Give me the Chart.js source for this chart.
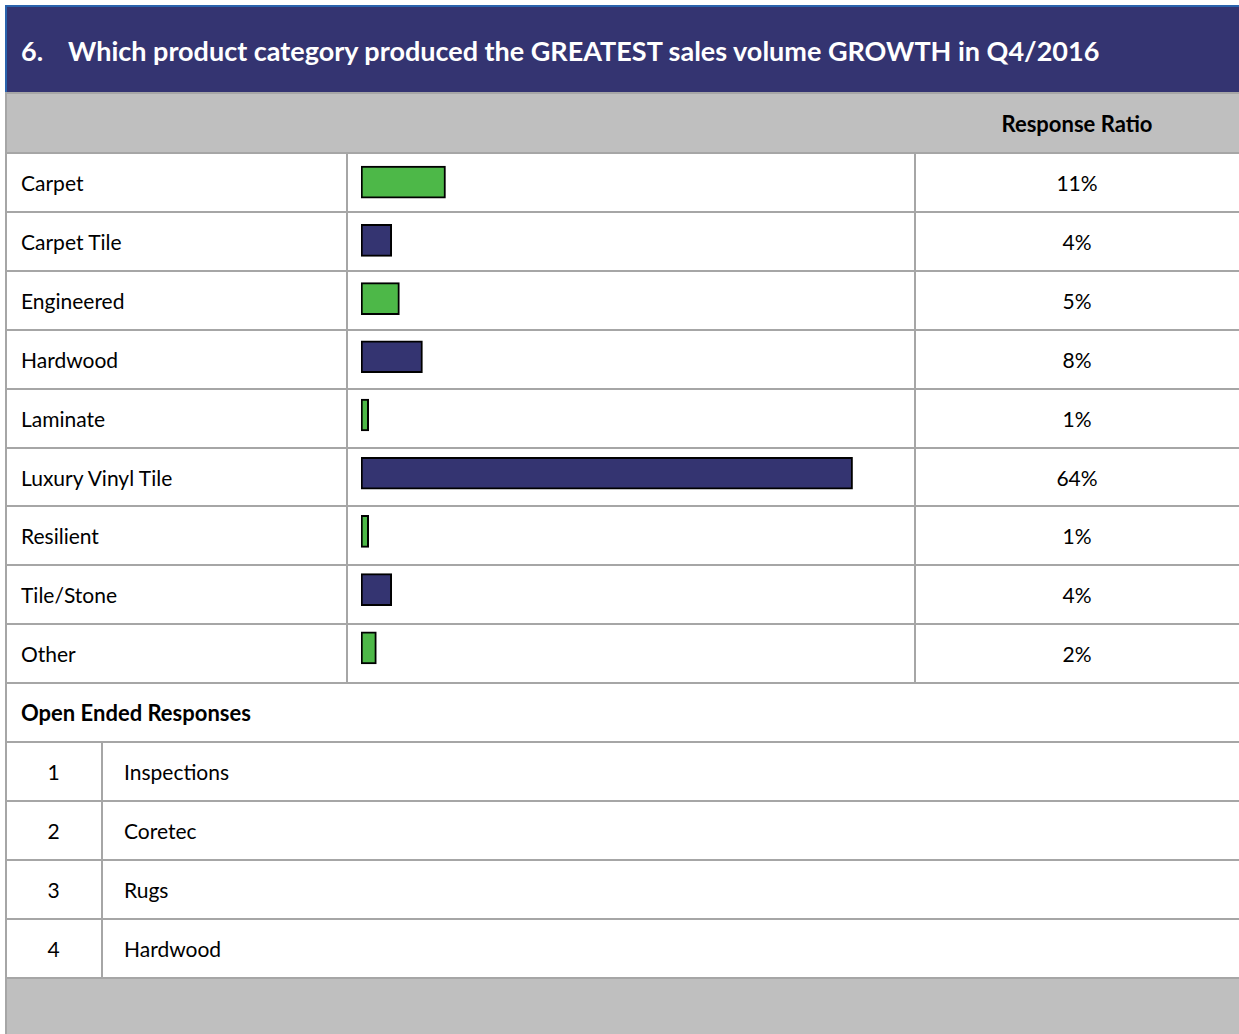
<!DOCTYPE html>
<html>
<head>
<meta charset="utf-8">
<script src="https://cdn.jsdelivr.net/npm/chart.js@4.4.1/dist/chart.umd.min.js"></script>
<style>
  html, body { margin: 0; padding: 0; background: #fff; }
  body { width: 1239px; height: 1034px; position: relative; overflow: hidden;
         font-family: Lato, "Open Sans", sans-serif; color: #000; }
  .abs { position: absolute; box-sizing: border-box; }
  .title { left: 5px; top: 5px; width: 1234px; height: 88px; background: #343471;
           border-top: 2px solid #2a63ad; border-left: 2px solid #2a63ad;
           color: #fff; font-weight: bold; font-size: 27px; line-height: 88px; padding-left: 14px;
           white-space: nowrap; }
  .title .num { display: inline-block; width: 47px; }
  .gray { background: #bfbfbf; }
  .hline { height: 2px; background: #a6a6a6; }
  .vline { width: 2px; background: #a6a6a6; }
  .txt { font-size: 21px; line-height: 59px; white-space: nowrap; }
  .bold { font-weight: bold; font-size: 22px; }
  .center { text-align: center; }
  #chartBox { left: 349px; top: 153px; width: 565px; height: 530px; }
</style>
</head>
<body>
<div class="abs title"><span class="num">6.</span>Which product category produced the GREATEST sales volume GROWTH in Q4/2016</div>
<div id="layout"></div>
<div id="chartBox" class="abs"><canvas id="bars"></canvas></div>
<script>
const categories = ['Carpet', 'Carpet Tile', 'Engineered', 'Hardwood', 'Laminate',
  'Luxury Vinyl Tile', 'Resilient', 'Tile/Stone', 'Other'];
const responseRatio = [11, 4, 5, 8, 1, 64, 1, 4, 2];
const openEnded = ['Inspections', 'Coretec', 'Rugs', 'Hardwood'];

const layout = document.getElementById('layout');
function add(cls, style, html) {
  const d = document.createElement('div');
  d.className = 'abs ' + cls;
  Object.assign(d.style, style);
  if (html !== undefined) d.textContent = html;
  layout.appendChild(d);
  return d;
}

const rowH = 58.9;
const top0 = 153;
// header gray row
add('gray', { left: '5px', top: '93px', width: '1234px', height: '60px' });
add('txt bold center', { left: '915px', top: '93px', width: '324px', lineHeight: '62px' }, 'Response Ratio');
add('hline', { left: '5px', top: '92px', width: '1234px' });

// category rows
categories.forEach((c, i) => {
  const y = top0 + i * rowH;
  add('txt', { left: '21px', top: y + 'px' }, c);
  add('txt center', { left: '915px', top: y + 'px', width: '324px' }, responseRatio[i] + '%');
});
const catBottom = top0 + categories.length * rowH;
add('vline', { left: '346px', top: top0 + 'px', height: (catBottom - top0) + 'px' });
add('vline', { left: '914px', top: top0 + 'px', height: (catBottom - top0) + 'px' });

// open ended
add('txt bold', { left: '21px', top: catBottom + 'px' }, 'Open Ended Responses');
const oeTop = catBottom + rowH;
openEnded.forEach((t, i) => {
  const y = oeTop + i * rowH;
  add('txt center', { left: '5px', top: y + 'px', width: '97px' }, String(i + 1));
  add('txt', { left: '124px', top: y + 'px' }, t);
});
const oeBottom = oeTop + openEnded.length * rowH;
add('vline', { left: '101px', top: oeTop + 'px', height: (oeBottom - oeTop) + 'px' });

// horizontal lines
for (let k = 0; k <= categories.length + 1 + openEnded.length; k++) {
  add('hline', { left: '5px', top: (top0 - 1 + k * rowH) + 'px', width: '1234px' });
}
add('gray', { left: '5px', top: (oeBottom + 1) + 'px', width: '1234px', height: (1034 - oeBottom) + 'px' });
add('vline', { left: '5px', top: '93px', height: '941px' });

const barColors = categories.map((_, i) => i % 2 === 0 ? '#4db848' : '#343471');

new Chart(document.getElementById('bars'), {
  type: 'bar',
  data: {
    labels: categories,
    datasets: [{
      data: responseRatio,
      backgroundColor: barColors,
      borderColor: '#000',
      borderWidth: 2,
      borderSkipped: false,
      barThickness: 32
    }]
  },
  options: {
    indexAxis: 'y',
    responsive: true,
    maintainAspectRatio: false,
    animation: false,
    layout: { padding: { left: 12, right: 0, top: 0, bottom: 6 } },
    plugins: { legend: { display: false }, tooltip: { enabled: false } },
    scales: {
      x: { display: false, min: 0, max: 72 },
      y: { display: false }
    }
  }
});
</script>
</body>
</html>
